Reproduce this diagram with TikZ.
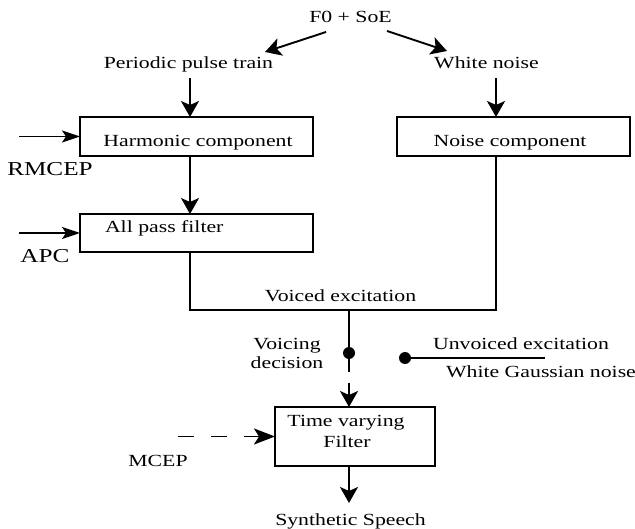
\documentclass[tikz,border=0pt]{standalone}
\usepackage{fontspec}
\setmainfont{Liberation Serif}[FakeStretch=1.28]
\usetikzlibrary{arrows.meta,calc}
\begin{document}
\begin{tikzpicture}[x=1pt,y=-1pt,
  every node/.style={inner sep=0pt, outer sep=0pt},
  lbl/.style={font=\fontsize{17}{19}\selectfont, anchor=base, text height=12pt, text depth=3pt},
  biglbl/.style={font=\fontsize{19.7}{22}\selectfont, anchor=base, text height=14pt, text depth=3pt},
  blk/.style={draw, line width=1.9pt},
  wire/.style={line width=1.9pt},
  arr/.style={wire, -{Stealth[length=16pt,width=18pt,inset=4pt]}},
  narrowarr/.style={wire, -{Stealth[length=18pt,width=12pt,inset=4pt]}},
  widearr/.style={wire, -{Stealth[length=21pt,width=16pt,inset=5pt]}},
  dot/.style={circle, fill, minimum size=12pt}
]
\useasboundingbox (0,0) rectangle (635,529);

% source and the two excitation generators
\node[lbl] (f0)  at (350.5,22.5) {F0 + SoE};
\node[lbl] (ppt) at (188.5,69) {Periodic pulse train};
\node[lbl] (wn)  at (486.5,69) {White noise};

% processing blocks
\node[blk, minimum width=233pt, minimum height=39pt] (harm)  at (196.5,136.5) {};
\node[lbl] (harmtxt) at (198,147) {Harmonic component};
\node[blk, minimum width=233pt, minimum height=39pt] (noise) at (513.5,136.5) {};
\node[lbl] (noisetxt) at (510,147) {Noise component};
\node[blk, minimum width=233pt, minimum height=38pt] (apf)   at (196.5,233) {};
\node[lbl, anchor=base west] (apftxt) at (105,233) {All pass filter};
\node[blk, minimum width=160pt, minimum height=59pt] (tvf)   at (355,436.5) {};
\node[lbl] (tvf1) at (346,427) {Time varying};
\node[lbl] (tvf2) at (347,447) {Filter};

% parameter inputs
\node[biglbl] (rmcep) at (50,176) {RMCEP};
\node[biglbl] (apc)   at (45,263) {APC};
\node[lbl]    (mcep)  at (158,467) {MCEP};
\coordinate (rin) at (19,136.5);
\coordinate (ain) at (19,233);
\coordinate (min) at (178,436.5);

% switch labels
\node[lbl] (vexc) at (340.5,302) {Voiced excitation};
\node[lbl] (vd1)  at (287,350) {Voicing};
\node[lbl] (vd2)  at (287,369) {decision};
\node[lbl] (uexc) at (521,350) {Unvoiced excitation};
\node[lbl] (wgn)  at (541,378) {White Gaussian noise};
\node[lbl] (out)  at (350.5,525) {Synthetic Speech};

% switch contacts
\node[dot] (vdot) at (349,353) {};
\node[dot] (udot) at (405,358) {};
\coordinate (uend) at (545,358);
\coordinate (vj) at (349,310);

% connectors
\draw[arr] ($(f0.south)+(-24.5,6.5)$) -- ($(ppt.north)+(76.5,-5)$);
\draw[arr] ($(f0.south)+(36.5,5.5)$) -- ($(wn.north)+(-39.5,-6)$);
\draw[arr] ($(ppt.south)+(1.5,6)$) -- ($(harm.north)+(-6.5,0)$);
\draw[arr] ($(wn.south)+(9.5,6)$) -- ($(noise.north)+(-17.5,0)$);
\draw[arr] ($(harm.south)+(-6.5,0)$) -- ($(apf.north)+(-6.5,0)$);
\draw[narrowarr] (rin) -- (harm.west);
\draw[narrowarr] (ain) -- (apf.west);
\draw[wire] ($(apf.south)+(-6.5,0)$) |- (vj) -| ($(noise.south)+(-17.5,0)$);
\draw[wire] (vj) -- (vdot) -- ($(vdot)+(0,19)$);
\draw[arr] ($(vdot)+(0,30)$) -- (vdot |- tvf.north);
\draw[wire] (udot) -- (uend);
\draw[widearr, dash pattern=on 16pt off 17pt] (min) -- (tvf.west);
\draw[arr] ($(tvf.south)+(-6,0)$) -- ($(out.north)+(-1.5,-10)$);
\end{tikzpicture}
\end{document}
